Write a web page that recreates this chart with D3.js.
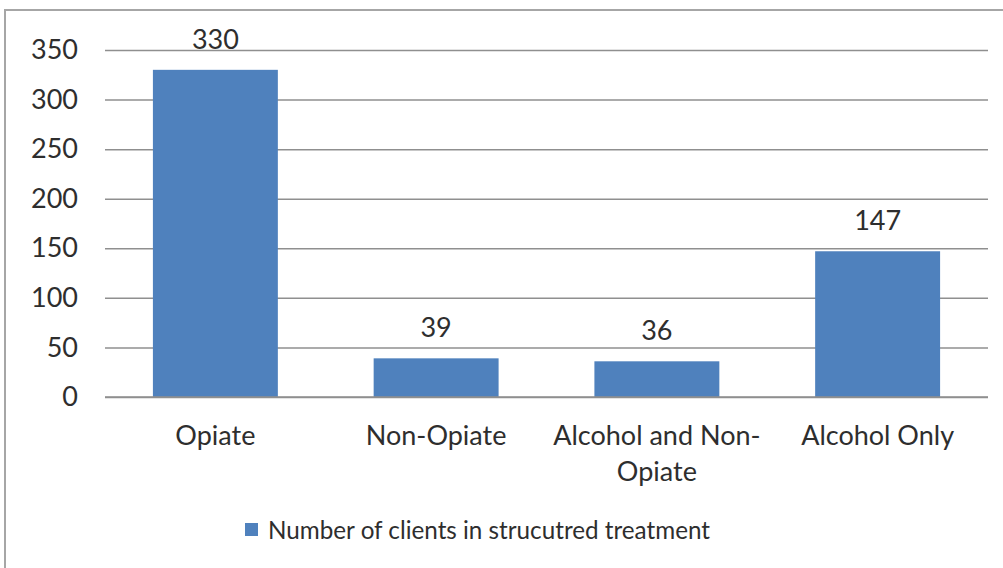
<!DOCTYPE html>
<html>
<head>
<meta charset="utf-8">
<script src="https://cdn.jsdelivr.net/npm/d3@7"></script>
<style>
  html, body { margin: 0; padding: 0; background: #fff; }
  svg { display: block; }
  text { font-family: Lato, "Open Sans", sans-serif; fill: #2e2e2e; }
</style>
</head>
<body>
<div id="chart"></div>
<script>
// values
const categories = ['Opiate', 'Non-Opiate', 'Alcohol and Non-Opiate', 'Alcohol Only'];
const clients = [330, 39, 36, 147];
const yTicks = [0, 50, 100, 150, 200, 250, 300, 350];
const seriesName = 'Number of clients in strucutred treatment';

const W = 1003, H = 568;
const fontSize = 27;
const barColor = '#4f81bd';
const gridColor = '#8f8f8f';

const plot = { left: 105, right: 988, top: 50, bottom: 397 };

const data = categories.map((c, i) => ({ label: c, value: clients[i] }));

const svg = d3.select('#chart')
  .append('svg')
  .attr('width', W)
  .attr('height', H);

// chart frame (runs past the right and bottom edge of the crop)
svg.append('rect')
  .attr('x', 5)
  .attr('y', 10)
  .attr('width', W + 10)
  .attr('height', H + 10)
  .attr('fill', '#fff')
  .attr('stroke', '#a6a6a6')
  .attr('stroke-width', 2);

const x = d3.scaleBand()
  .domain(categories)
  .range([plot.left, plot.right])
  .paddingInner(0.434)
  .paddingOuter(0.217);

const y = d3.scaleLinear()
  .domain([0, 350])
  .range([plot.bottom, plot.top]);

// gridlines + y labels
const yAxis = svg.append('g')
  .attr('transform', `translate(${plot.left},0)`)
  .call(d3.axisLeft(y).tickValues(yTicks).tickSize(-(plot.right - plot.left)).tickPadding(27))
  .call(ax => ax.select('.domain').remove());

yAxis.selectAll('.tick line')
  .attr('stroke', gridColor)
  .attr('stroke-width', 1.5);

yAxis.selectAll('.tick text')
  .attr('font-size', fontSize + 'px')
  .attr('font-family', 'Lato, sans-serif')
  .attr('fill', '#2e2e2e');

// bars
svg.selectAll('rect.bar')
  .data(data)
  .join('rect')
  .attr('class', 'bar')
  .attr('x', d => x(d.label))
  .attr('y', d => y(d.value))
  .attr('width', x.bandwidth())
  .attr('height', d => y(0) - y(d.value))
  .attr('fill', barColor);

// axis baseline over the bar bottoms
svg.append('line')
  .attr('x1', plot.left)
  .attr('x2', plot.right)
  .attr('y1', y(0))
  .attr('y2', y(0))
  .attr('stroke', gridColor)
  .attr('stroke-width', 1.5);

// value labels
svg.selectAll('text.val')
  .data(data)
  .join('text')
  .attr('class', 'val')
  .attr('x', d => x(d.label) + x.bandwidth() / 2)
  .attr('y', d => y(d.value) - 21)
  .attr('text-anchor', 'middle')
  .attr('font-size', fontSize + 'px')
  .text(d => d.value);

// category labels, wrapped to the band width
function wrapLabel(label, maxW) {
  const tokens = label.match(/[^\s-]+-?\s*/g);
  const probe = svg.append('text').attr('font-size', fontSize + 'px');
  const lines = [];
  let cur = '';
  tokens.forEach(t => {
    const test = cur + t;
    probe.text(test.trim());
    if (cur && probe.node().getComputedTextLength() > maxW) {
      lines.push(cur.trim());
      cur = t;
    } else {
      cur = test;
    }
  });
  if (cur) lines.push(cur.trim());
  probe.remove();
  return lines;
}

const catG = svg.append('g');
data.forEach(d => {
  const lines = wrapLabel(d.label, x.step() * 0.99);
  const t = catG.append('text')
    .attr('text-anchor', 'middle')
    .attr('font-size', fontSize + 'px');
  lines.forEach((ln, i) => {
    t.append('tspan')
      .attr('x', x(d.label) + x.bandwidth() / 2)
      .attr('y', 445 + i * 36)
      .text(ln);
  });
});

// legend
const leg = svg.append('g').attr('transform', 'translate(245,523)');
leg.append('rect')
  .attr('width', 13)
  .attr('height', 13)
  .attr('fill', barColor);
leg.append('text')
  .attr('x', 23)
  .attr('y', 16)
  .attr('font-size', '25px')
  .attr('textLength', 442)
  .attr('lengthAdjust', 'spacingAndGlyphs')
  .text(seriesName);
</script>
</body>
</html>
